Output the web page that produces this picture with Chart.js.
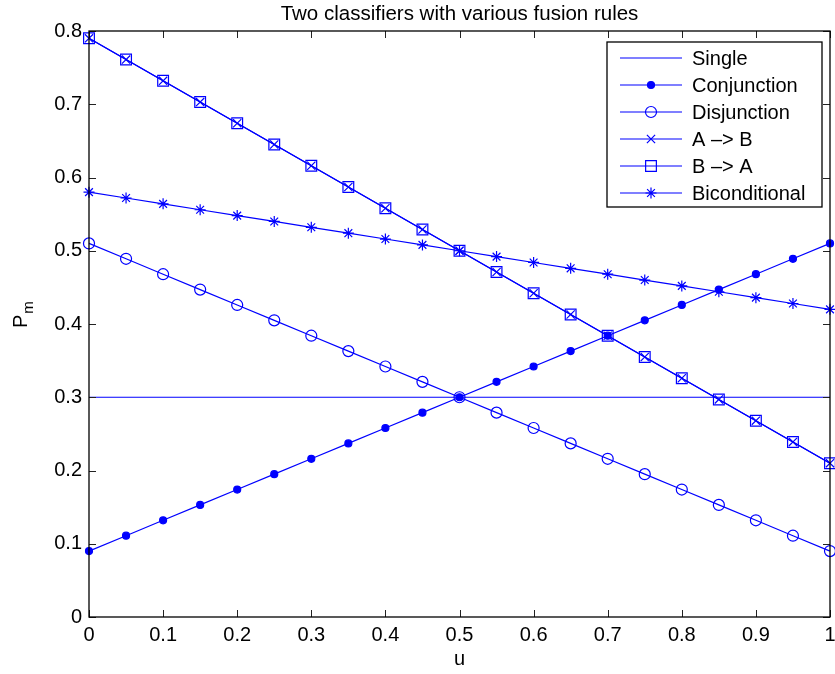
<!DOCTYPE html>
<html lang="en">
<head>
<meta charset="UTF-8">
<title>Two classifiers with various fusion rules</title>
<script src="https://cdn.jsdelivr.net/npm/chart.js"></script>
<style>
    html, body { margin: 0; padding: 0; background: #fff; }
    #wrap { width: 835px; height: 674px; }
</style>
</head>
<body>
<div id="wrap"><canvas id="fusionChart" width="835" height="674"></canvas></div>
<script>
// u values along the x axis
const uValues = [0, 0.05, 0.1, 0.15, 0.2, 0.25, 0.3, 0.35, 0.4, 0.45, 0.5,
                 0.55, 0.6, 0.65, 0.7, 0.75, 0.8, 0.85, 0.9, 0.95, 1];

// P_m for each fusion rule
const single        = [0.3, 0.3, 0.3, 0.3, 0.3, 0.3, 0.3, 0.3, 0.3, 0.3, 0.3,
                       0.3, 0.3, 0.3, 0.3, 0.3, 0.3, 0.3, 0.3, 0.3, 0.3];
const conjunction   = [0.09, 0.111, 0.132, 0.153, 0.174, 0.195, 0.216, 0.237, 0.258, 0.279, 0.3,
                       0.321, 0.342, 0.363, 0.384, 0.405, 0.426, 0.447, 0.468, 0.489, 0.51];
const disjunction   = [0.51, 0.489, 0.468, 0.447, 0.426, 0.405, 0.384, 0.363, 0.342, 0.321, 0.3,
                       0.279, 0.258, 0.237, 0.216, 0.195, 0.174, 0.153, 0.132, 0.111, 0.09];
const aToB          = [0.79, 0.761, 0.732, 0.703, 0.674, 0.645, 0.616, 0.587, 0.558, 0.529, 0.5,
                       0.471, 0.442, 0.413, 0.384, 0.355, 0.326, 0.297, 0.268, 0.239, 0.21];
const bToA          = [0.79, 0.761, 0.732, 0.703, 0.674, 0.645, 0.616, 0.587, 0.558, 0.529, 0.5,
                       0.471, 0.442, 0.413, 0.384, 0.355, 0.326, 0.297, 0.268, 0.239, 0.21];
const biconditional = [0.58, 0.572, 0.564, 0.556, 0.548, 0.54, 0.532, 0.524, 0.516, 0.508, 0.5,
                       0.492, 0.484, 0.476, 0.468, 0.46, 0.452, 0.444, 0.436, 0.428, 0.42];

// tick positions and labels
const xTicks = [0, 0.1, 0.2, 0.3, 0.4, 0.5, 0.6, 0.7, 0.8, 0.9, 1];
const xTickLabels = ['0', '0.1', '0.2', '0.3', '0.4', '0.5', '0.6', '0.7', '0.8', '0.9', '1'];
const yTicks = [0, 0.1, 0.2, 0.3, 0.4, 0.5, 0.6, 0.7, 0.8];
const yTickLabels = ['0', '0.1', '0.2', '0.3', '0.4', '0.5', '0.6', '0.7', '0.8'];

const BLUE = '#0000ff';
const FONT = "'Liberation Sans', Arial, Helvetica, sans-serif";

function toPoints(ys) {
    return ys.map((y, i) => ({ x: uValues[i], y: y }));
}

function series(label, ys, style, radius, fill) {
    return {
        label: label,
        data: toPoints(ys),
        borderColor: BLUE,
        borderWidth: 1.2,
        pointStyle: style || 'circle',
        pointRadius: style ? radius : 0,
        pointBorderColor: BLUE,
        pointBackgroundColor: fill ? BLUE : 'rgba(0,0,0,0)',
        pointBorderWidth: 1.2,
        fill: false,
        tension: 0,
        clip: false
    };
}

const datasets = [
    series('Single', single, null, 0, false),
    series('Conjunction', conjunction, 'circle', 3.5, true),
    series('Disjunction', disjunction, 'circle', 5.5, false),
    series('A \u2013> B', aToB, 'crossRot', 5.8, false),
    series('B \u2013> A', bToA, 'rect', 7.6, false),
    series('Biconditional', biconditional, 'star', 5.5, false)
];

// frame, inward ticks, title, axis labels and legend, MATLAB style
const matlabAxes = {
    id: 'matlabAxes',
    afterDraw(chart) {
        const ctx = chart.ctx;
        const a = chart.chartArea;
        const xs = chart.scales.x, ys = chart.scales.y;
        const tick = 7;
        ctx.save();

        // ticks on all four sides
        ctx.strokeStyle = '#222';
        ctx.lineWidth = 1;
        ctx.beginPath();
        xTicks.forEach(v => {
            const px = Math.round(xs.getPixelForValue(v)) + 0.5;
            ctx.moveTo(px, a.bottom); ctx.lineTo(px, a.bottom - tick);
            ctx.moveTo(px, a.top); ctx.lineTo(px, a.top + tick);
        });
        yTicks.forEach(v => {
            const py = Math.round(ys.getPixelForValue(v)) + 0.5;
            ctx.moveTo(a.left, py); ctx.lineTo(a.left + tick, py);
            ctx.moveTo(a.right, py); ctx.lineTo(a.right - tick, py);
        });
        ctx.stroke();

        // box
        ctx.strokeStyle = '#000';
        ctx.lineWidth = 1.3;
        ctx.strokeRect(a.left, a.top, a.right - a.left, a.bottom - a.top);

        // title and axis labels
        const cx = (a.left + a.right) / 2;
        const cy = (a.top + a.bottom) / 2;
        ctx.fillStyle = '#000';
        ctx.textAlign = 'center';
        ctx.textBaseline = 'middle';
        ctx.font = '20.5px ' + FONT;
        ctx.fillText('Two classifiers with various fusion rules', cx, 14);
        ctx.font = '20px ' + FONT;
        ctx.fillText('u', cx, 659);

        ctx.save();
        ctx.translate(27, cy + 4);
        ctx.rotate(-Math.PI / 2);
        ctx.textAlign = 'left';
        ctx.textBaseline = 'alphabetic';
        ctx.font = '20px ' + FONT;
        ctx.fillText('P', 0, 0);
        const pw = ctx.measureText('P').width;
        ctx.font = '15px ' + FONT;
        ctx.fillText('m', pw + 1, 6);
        ctx.restore();

        // legend
        const lw = 215, lh = 165;
        const lx = a.right - 8 - lw, ly = a.top + 11;
        ctx.fillStyle = '#fff';
        ctx.fillRect(lx, ly, lw, lh);
        ctx.strokeStyle = '#000';
        ctx.lineWidth = 1.3;
        ctx.strokeRect(lx, ly, lw, lh);
        const rowH = 27;
        chart.data.datasets.forEach((ds, i) => {
            const ry = ly + 16 + i * rowH;
            ctx.strokeStyle = BLUE;
            ctx.lineWidth = 1.2;
            ctx.beginPath();
            ctx.moveTo(lx + 13, ry); ctx.lineTo(lx + 75, ry);
            ctx.stroke();
            if (ds.pointRadius > 0) {
                ctx.fillStyle = ds.pointBackgroundColor;
                ctx.strokeStyle = BLUE;
                ctx.lineWidth = 1.2;
                Chart.helpers.drawPoint(ctx, {
                    pointStyle: ds.pointStyle,
                    rotation: 0,
                    radius: ds.pointRadius,
                    borderWidth: 1.2
                }, lx + 44, ry);
            }
            ctx.fillStyle = '#000';
            ctx.textAlign = 'left';
            ctx.textBaseline = 'middle';
            ctx.font = '20px ' + FONT;
            ctx.fillText(ds.label, lx + 85, ry + 1);
        });
        ctx.restore();
    }
};

new Chart(document.getElementById('fusionChart').getContext('2d'), {
    type: 'line',
    data: { datasets: datasets },
    options: {
        responsive: false,
        animation: false,
        devicePixelRatio: 1,
        layout: { autoPadding: false, padding: { top: 31, right: 5, left: 0, bottom: 0 } },
        plugins: {
            legend: { display: false },
            title: { display: false },
            tooltip: { enabled: false }
        },
        scales: {
            x: {
                type: 'linear',
                min: 0, max: 1,
                grid: { display: false, drawTicks: false },
                border: { display: false },
                afterBuildTicks: axis => { axis.ticks = xTicks.map(v => ({ value: v })); },
                afterFit: axis => {
                    axis.height = 674 - 617;
                    axis.paddingLeft = 0;
                    axis.paddingRight = 0;
                },
                ticks: {
                    color: '#000',
                    padding: 6,
                    maxRotation: 0,
                    autoSkip: false,
                    font: { size: 20, family: FONT },
                    callback: (v, i) => xTickLabels[i]
                }
            },
            y: {
                type: 'linear',
                min: 0, max: 0.8,
                grid: { display: false, drawTicks: false },
                border: { display: false },
                afterBuildTicks: axis => { axis.ticks = yTicks.map(v => ({ value: v })); },
                afterFit: axis => {
                    axis.width = 89;
                    axis.paddingTop = 0;
                    axis.paddingBottom = 0;
                },
                ticks: {
                    color: '#000',
                    padding: 7,
                    autoSkip: false,
                    font: { size: 20, family: FONT },
                    callback: (v, i) => yTickLabels[i]
                }
            }
        }
    },
    plugins: [matlabAxes]
});
</script>
</body>
</html>
